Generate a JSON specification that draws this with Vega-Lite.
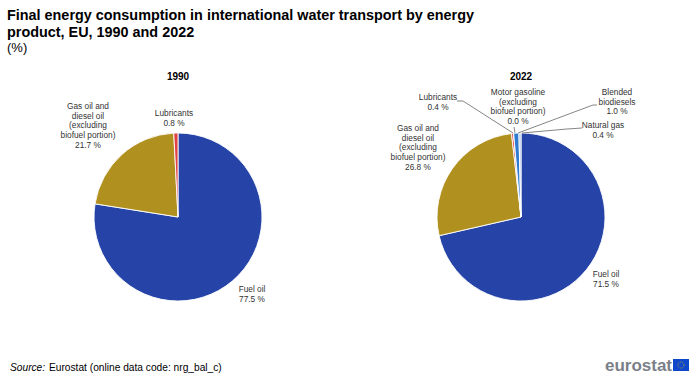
{
"$schema":"https://vega.github.io/schema/vega-lite/v6.json",
"width":700,"height":377,"autosize":{"type":"fit","contains":"padding"},
"background":"#ffffff",
"padding":{"left":0,"top":7,"right":0,"bottom":0},
"config":{"view":{"stroke":null},"text":{"font":"Liberation Sans","fontSize":8.3,"color":"#333333","lineBreak":"\n","lineHeight":9.7}},
"datasets":{
"pies":[
{"year":"1990","product":"Fuel oil","rank":1,"share":77.5,"label":"Fuel oil\n77.5 %"},
{"year":"1990","product":"Gas oil and diesel oil (excluding biofuel portion)","rank":2,"share":21.7,"label":"Gas oil and\ndiesel oil\n(excluding\nbiofuel portion)\n21.7 %"},
{"year":"1990","product":"Lubricants","rank":3,"share":0.8,"label":"Lubricants\n0.8 %"},
{"year":"2022","product":"Fuel oil","rank":1,"share":71.5,"label":"Fuel oil\n71.5 %"},
{"year":"2022","product":"Gas oil and diesel oil (excluding biofuel portion)","rank":2,"share":26.8,"label":"Gas oil and\ndiesel oil\n(excluding\nbiofuel portion)\n26.8 %"},
{"year":"2022","product":"Lubricants","rank":3,"share":0.4,"label":"Lubricants\n0.4 %"},
{"year":"2022","product":"Motor gasoline (excluding biofuel portion)","rank":4,"share":0.0,"label":"Motor gasoline\n(excluding\nbiofuel portion)\n0.0 %"},
{"year":"2022","product":"Blended biodiesels","rank":5,"share":1.0,"label":"Blended\nbiodiesels\n1.0 %"},
{"year":"2022","product":"Natural gas","rank":6,"share":0.4,"label":"Natural gas\n0.4 %"}
],
"years":[{"year":"1990"},{"year":"2022"}]
},
"data":{"name":"pies"},
"encoding":{
"x":{"field":"year","type":"nominal","axis":null,"scale":{"type":"point","padding":0,"domain":["1990","2022"],"range":[178,521]}},
"y":{"datum":"centre","type":"nominal","axis":null,"scale":{"type":"point","padding":0,"domain":["centre"],"range":[161,161]}}
},
"layer":[
{"transform":[{"stack":"share","groupby":["year"],"sort":[{"field":"rank","order":"ascending"}],"offset":"normalize","as":["a0","a1"]}],
 "mark":{"type":"arc","outerRadius":84,"innerRadius":0,"stroke":"#ffffff","strokeWidth":0.9},
 "encoding":{
  "theta":{"field":"a0","type":"quantitative","stack":false,"scale":{"domain":[0,1],"range":[0,6.2832]}},
  "theta2":{"field":"a1"},
  "color":{"field":"product","type":"nominal","legend":null,"scale":{"domain":["Fuel oil","Gas oil and diesel oil (excluding biofuel portion)","Lubricants","Motor gasoline (excluding biofuel portion)","Blended biodiesels","Natural gas"],"range":["#2644A7","#B09120","#E04040","#672DC4","#2E7BD1","#A9BEE8"]}}}},
{"data":{"name":"years"},"mark":{"type":"text","font":"Liberation Sans","fontSize":10,"fontWeight":"bold","color":"#000000","dy":-140,"align":"center"},"encoding":{"text":{"field":"year"}}},
{"transform":[{"filter":"datum.year=='1990' && datum.rank==1"}],"mark":{"type":"text","dx":74,"dy":73,"align":"center","baseline":"middle"},"encoding":{"text":{"field":"label"}}},
{"transform":[{"filter":"datum.year=='1990' && datum.rank==2"}],"mark":{"type":"text","dx":-90,"dy":-110,"align":"center","baseline":"middle"},"encoding":{"text":{"field":"label"}}},
{"transform":[{"filter":"datum.year=='1990' && datum.rank==3"}],"mark":{"type":"text","dx":-4,"dy":-103,"align":"center","baseline":"middle"},"encoding":{"text":{"field":"label"}}},
{"transform":[{"filter":"datum.year=='2022' && datum.rank==1"}],"mark":{"type":"text","dx":85,"dy":58,"align":"center","baseline":"middle"},"encoding":{"text":{"field":"label"}}},
{"transform":[{"filter":"datum.year=='2022' && datum.rank==2"}],"mark":{"type":"text","dx":-103,"dy":-88,"align":"center","baseline":"middle"},"encoding":{"text":{"field":"label"}}},
{"transform":[{"filter":"datum.year=='2022' && datum.rank==3"}],"mark":{"type":"text","dx":-83,"dy":-119,"align":"center","baseline":"middle"},"encoding":{"text":{"field":"label"}}},
{"transform":[{"filter":"datum.year=='2022' && datum.rank==4"}],"mark":{"type":"text","dx":-3,"dy":-124,"align":"center","baseline":"middle"},"encoding":{"text":{"field":"label"}}},
{"transform":[{"filter":"datum.year=='2022' && datum.rank==5"}],"mark":{"type":"text","dx":96,"dy":-124,"align":"center","baseline":"middle"},"encoding":{"text":{"field":"label"}}},
{"transform":[{"filter":"datum.year=='2022' && datum.rank==6"}],"mark":{"type":"text","dx":82,"dy":-91,"align":"center","baseline":"middle"},"encoding":{"text":{"field":"label"}}},
{"data":{"values":[{"year":"2022"}]},"mark":{"type":"rule","color":"#666666","strokeWidth":0.8,"xOffset":-64,"x2Offset":-58,"yOffset":-116,"y2Offset":-116},"encoding":{"x2":{"field":"year"},"y2":{"datum":"centre"}}},
{"data":{"values":[{"year":"2022"}]},"mark":{"type":"rule","color":"#666666","strokeWidth":0.8,"xOffset":-58,"x2Offset":-8,"yOffset":-116,"y2Offset":-84},"encoding":{"x2":{"field":"year"},"y2":{"datum":"centre"}}},
{"data":{"values":[{"year":"2022"}]},"mark":{"type":"rule","color":"#666666","strokeWidth":0.8,"xOffset":-7,"x2Offset":-6,"yOffset":-90,"y2Offset":-84},"encoding":{"x2":{"field":"year"},"y2":{"datum":"centre"}}},
{"data":{"values":[{"year":"2022"}]},"mark":{"type":"rule","color":"#666666","strokeWidth":0.8,"xOffset":76,"x2Offset":72,"yOffset":-112,"y2Offset":-112},"encoding":{"x2":{"field":"year"},"y2":{"datum":"centre"}}},
{"data":{"values":[{"year":"2022"}]},"mark":{"type":"rule","color":"#666666","strokeWidth":0.8,"xOffset":72,"x2Offset":-3,"yOffset":-112,"y2Offset":-84},"encoding":{"x2":{"field":"year"},"y2":{"datum":"centre"}}},
{"data":{"values":[{"year":"2022"}]},"mark":{"type":"rule","color":"#666666","strokeWidth":0.8,"xOffset":61,"x2Offset":46,"yOffset":-89,"y2Offset":-88},"encoding":{"x2":{"field":"year"},"y2":{"datum":"centre"}}},
{"data":{"values":[{"year":"2022"}]},"mark":{"type":"rule","color":"#666666","strokeWidth":0.8,"xOffset":46,"x2Offset":1,"yOffset":-88,"y2Offset":-84},"encoding":{"x2":{"field":"year"},"y2":{"datum":"centre"}}},
{"data":{"values":[{"year":"1990","note":"Source:"}]},"mark":{"type":"text","align":"left","baseline":"middle","dx":-168,"dy":151,"fontSize":10.2,"fontStyle":"italic","color":"#000000"},"encoding":{"text":{"field":"note"}}},
{"data":{"values":[{"year":"1990","note":"Eurostat (online data code: nrg_bal_c)"}]},"mark":{"type":"text","align":"left","baseline":"middle","dx":-129,"dy":151,"fontSize":10.2,"color":"#000000"},"encoding":{"text":{"field":"note"}}},
{"data":{"values":[{"year":"2022","note":"eurostat"}]},"mark":{"type":"text","align":"right","baseline":"middle","dx":151,"dy":149,"fontSize":17,"fontWeight":"bold","color":"#7A8088"},"encoding":{"text":{"field":"note"}}},
{"data":{"values":[{"year":"2022"}]},"mark":{"type":"rect","color":"#0E47CB","xOffset":152,"x2Offset":168,"yOffset":142,"y2Offset":154},"encoding":{"x2":{"field":"year"},"y2":{"datum":"centre"}}},
{"data":{"values":[{"year":"2022"}]},"mark":{"type":"point","filled":false,"color":"#FFCC00","size":38,"strokeWidth":1,"strokeDash":[1,1.2],"xOffset":160,"yOffset":148},"encoding":{}}
],
"title":{"text":["Final energy consumption in international water transport by energy","product, EU, 1990 and 2022"],"subtitle":"(%)","subtitlePadding":2,"anchor":"start","frame":"bounds","offset":0,"dx":7,"font":"Liberation Sans","fontSize":14.4,"fontWeight":"bold","color":"#000000","lineHeight":17,"subtitleFont":"Liberation Sans","subtitleFontSize":13,"subtitleColor":"#000000","subtitleFontWeight":"normal"}
}
